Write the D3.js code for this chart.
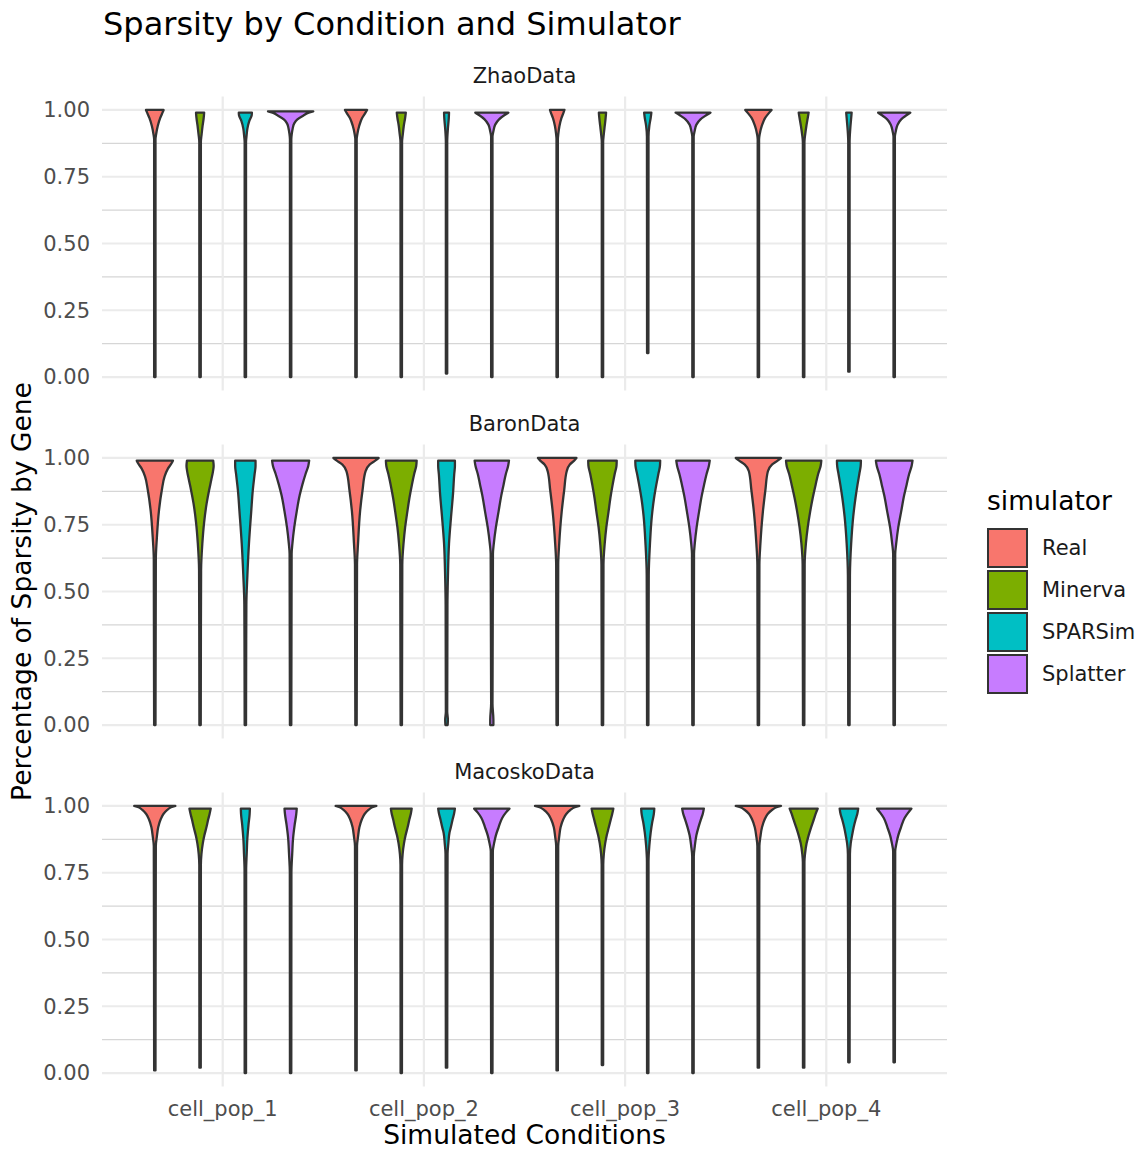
<!DOCTYPE html>
<html lang="en">
<head>
    <meta charset="UTF-8">
    <title>Sparsity by Condition and Simulator</title>
    <style>
        body { margin: 0; background: #fff; }
        svg { display: block; font-family: "DejaVu Sans", sans-serif; }
    </style>
</head>
<body>
    <svg id="chart" width="1144" height="1149"></svg>

    <script src="https://d3js.org/d3.v7.min.js"></script>
    <script>
        // facets, categories and fill groups
        const datasets = ["ZhaoData", "BaronData", "MacoskoData"];
        const conditions = ["cell_pop_1", "cell_pop_2", "cell_pop_3", "cell_pop_4"];
        const simulators = ["Real", "Minerva", "SPARSim", "Splatter"];
        const simColors = ["#F8766D", "#7CAE00", "#00BFC4", "#C77CFF"];
        const yTicks = [0, 0.25, 0.5, 0.75, 1];
        const yMinorTicks = [0.125, 0.375, 0.625, 0.875];

        // violin outlines: per condition, one entry per simulator,
        // knots are [sparsity, width relative to the widest violin]
        const zhaoViolins = [
            // cell_pop_1
            [[1.0, 0.39], [0.99, 0.34], [0.97, 0.24], [0.94, 0.13], [0.91, 0.06], [0.89, 0.03], [0, 0.03]],
            [[0.99, 0.18], [0.97, 0.16], [0.94, 0.11], [0.91, 0.07], [0.88, 0.035], [0, 0.03]],
            [[0.99, 0.29], [0.98, 0.28], [0.96, 0.18], [0.93, 0.09], [0.9, 0.05], [0.88, 0.03], [0, 0.03]],
            [[0.995, 1.0], [0.99, 0.8], [0.98, 0.58], [0.965, 0.3], [0.95, 0.16], [0.93, 0.09], [0.91, 0.05], [0.89, 0.03], [0, 0.03]],
            // cell_pop_2
            [[1.0, 0.49], [0.99, 0.42], [0.97, 0.27], [0.94, 0.14], [0.91, 0.06], [0.89, 0.03], [0, 0.03]],
            [[0.99, 0.2], [0.97, 0.17], [0.94, 0.11], [0.91, 0.07], [0.88, 0.035], [0, 0.03]],
            [[0.99, 0.11], [0.97, 0.1], [0.93, 0.06], [0.88, 0.03], [0.013, 0.03]],
            [[0.99, 0.73], [0.98, 0.55], [0.965, 0.32], [0.945, 0.15], [0.92, 0.07], [0.9, 0.03], [0, 0.03]],
            // cell_pop_3
            [[1.0, 0.32], [0.99, 0.28], [0.97, 0.19], [0.94, 0.1], [0.91, 0.05], [0.89, 0.03], [0, 0.03]],
            [[0.99, 0.16], [0.97, 0.14], [0.94, 0.1], [0.91, 0.06], [0.88, 0.03], [0, 0.03]],
            [[0.99, 0.16], [0.97, 0.13], [0.94, 0.07], [0.9, 0.035], [0.09, 0.03]],
            [[0.99, 0.77], [0.98, 0.58], [0.965, 0.33], [0.945, 0.15], [0.92, 0.07], [0.9, 0.03], [0, 0.03]],
            // cell_pop_4
            [[1.0, 0.58], [0.99, 0.48], [0.97, 0.3], [0.94, 0.15], [0.91, 0.06], [0.89, 0.03], [0, 0.03]],
            [[0.99, 0.22], [0.97, 0.18], [0.94, 0.12], [0.91, 0.07], [0.88, 0.035], [0, 0.03]],
            [[0.99, 0.12], [0.97, 0.1], [0.93, 0.06], [0.88, 0.03], [0.02, 0.03]],
            [[0.99, 0.71], [0.98, 0.54], [0.965, 0.31], [0.945, 0.15], [0.92, 0.07], [0.9, 0.03], [0, 0.03]]
        ];

        const baronViolins = [
            // cell_pop_1
            [[0.99, 0.8], [0.98, 0.74], [0.96, 0.58], [0.93, 0.43], [0.88, 0.31], [0.8, 0.18], [0.7, 0.09], [0.62, 0.045], [0, 0.03]],
            [[0.99, 0.58], [0.97, 0.6], [0.95, 0.57], [0.92, 0.5], [0.88, 0.4], [0.83, 0.29], [0.76, 0.18], [0.68, 0.1], [0.58, 0.045], [0, 0.03]],
            [[0.99, 0.45], [0.97, 0.45], [0.94, 0.41], [0.88, 0.33], [0.8, 0.26], [0.68, 0.16], [0.56, 0.09], [0.45, 0.045], [0, 0.03]],
            [[0.99, 0.82], [0.97, 0.78], [0.94, 0.66], [0.9, 0.52], [0.86, 0.4], [0.8, 0.27], [0.74, 0.16], [0.68, 0.08], [0.64, 0.045], [0, 0.03]],
            // cell_pop_2
            [[1.0, 1.0], [0.99, 0.85], [0.975, 0.6], [0.95, 0.42], [0.88, 0.29], [0.8, 0.18], [0.68, 0.09], [0.6, 0.045], [0, 0.03]],
            [[0.99, 0.68], [0.97, 0.66], [0.94, 0.57], [0.9, 0.47], [0.85, 0.36], [0.8, 0.27], [0.74, 0.17], [0.68, 0.1], [0.6, 0.045], [0, 0.03]],
            [[0.99, 0.37], [0.97, 0.37], [0.94, 0.34], [0.87, 0.29], [0.78, 0.2], [0.68, 0.11], [0.55, 0.06], [0.45, 0.04], [0.05, 0.03], [0.02, 0.06], [0, 0.05]],
            [[0.99, 0.76], [0.97, 0.72], [0.94, 0.62], [0.9, 0.52], [0.86, 0.42], [0.8, 0.3], [0.74, 0.18], [0.68, 0.09], [0.64, 0.05], [0.08, 0.03], [0.02, 0.07], [0, 0.07]],
            // cell_pop_3
            [[1.0, 0.85], [0.99, 0.75], [0.975, 0.55], [0.95, 0.42], [0.88, 0.31], [0.8, 0.2], [0.68, 0.09], [0.6, 0.045], [0, 0.03]],
            [[0.99, 0.63], [0.97, 0.62], [0.94, 0.54], [0.9, 0.45], [0.85, 0.35], [0.8, 0.27], [0.74, 0.17], [0.68, 0.1], [0.6, 0.045], [0, 0.03]],
            [[0.99, 0.55], [0.97, 0.54], [0.94, 0.47], [0.9, 0.38], [0.85, 0.28], [0.78, 0.18], [0.68, 0.1], [0.56, 0.045], [0, 0.03]],
            [[0.99, 0.74], [0.97, 0.7], [0.94, 0.6], [0.9, 0.49], [0.86, 0.39], [0.8, 0.27], [0.74, 0.16], [0.68, 0.08], [0.64, 0.045], [0, 0.03]],
            // cell_pop_4
            [[1.0, 1.0], [0.99, 0.85], [0.975, 0.6], [0.95, 0.42], [0.88, 0.31], [0.8, 0.2], [0.68, 0.09], [0.6, 0.045], [0, 0.03]],
            [[0.99, 0.78], [0.97, 0.75], [0.94, 0.64], [0.9, 0.53], [0.85, 0.4], [0.8, 0.29], [0.74, 0.18], [0.68, 0.1], [0.6, 0.045], [0, 0.03]],
            [[0.99, 0.53], [0.97, 0.52], [0.94, 0.46], [0.9, 0.38], [0.85, 0.29], [0.78, 0.19], [0.68, 0.1], [0.56, 0.045], [0, 0.03]],
            [[0.99, 0.81], [0.97, 0.77], [0.94, 0.66], [0.9, 0.55], [0.86, 0.44], [0.8, 0.31], [0.74, 0.18], [0.68, 0.09], [0.64, 0.045], [0, 0.03]]
        ];

        const macoskoViolins = [
            // cell_pop_1
            [[1.0, 0.91], [0.995, 0.72], [0.985, 0.55], [0.97, 0.38], [0.95, 0.26], [0.92, 0.15], [0.885, 0.09], [0.85, 0.045], [0.01, 0.03]],
            [[0.99, 0.47], [0.97, 0.42], [0.95, 0.36], [0.92, 0.28], [0.89, 0.19], [0.86, 0.12], [0.82, 0.06], [0.78, 0.035], [0.02, 0.03]],
            [[0.99, 0.2], [0.97, 0.19], [0.93, 0.14], [0.88, 0.09], [0.82, 0.06], [0.76, 0.035], [0, 0.03]],
            [[0.99, 0.27], [0.97, 0.25], [0.93, 0.18], [0.88, 0.11], [0.82, 0.07], [0.75, 0.035], [0, 0.03]],
            // cell_pop_2
            [[1.0, 0.9], [0.995, 0.72], [0.985, 0.55], [0.97, 0.38], [0.95, 0.26], [0.92, 0.15], [0.885, 0.09], [0.85, 0.045], [0.01, 0.03]],
            [[0.99, 0.46], [0.97, 0.42], [0.95, 0.36], [0.92, 0.28], [0.89, 0.19], [0.86, 0.12], [0.82, 0.06], [0.78, 0.035], [0, 0.03]],
            [[0.99, 0.37], [0.97, 0.33], [0.95, 0.27], [0.92, 0.19], [0.9, 0.13], [0.86, 0.08], [0.82, 0.045], [0.02, 0.03]],
            [[0.99, 0.78], [0.975, 0.62], [0.955, 0.46], [0.92, 0.3], [0.89, 0.18], [0.86, 0.1], [0.83, 0.045], [0, 0.03]],
            // cell_pop_3
            [[1.0, 0.98], [0.995, 0.78], [0.985, 0.58], [0.97, 0.4], [0.95, 0.27], [0.92, 0.15], [0.885, 0.09], [0.85, 0.045], [0.01, 0.03]],
            [[0.99, 0.48], [0.97, 0.43], [0.95, 0.37], [0.92, 0.28], [0.89, 0.19], [0.86, 0.12], [0.82, 0.06], [0.78, 0.035], [0.03, 0.03]],
            [[0.99, 0.29], [0.97, 0.27], [0.94, 0.2], [0.9, 0.13], [0.85, 0.07], [0.79, 0.035], [0, 0.03]],
            [[0.99, 0.48], [0.97, 0.43], [0.95, 0.35], [0.92, 0.24], [0.89, 0.15], [0.85, 0.08], [0.81, 0.035], [0, 0.03]],
            // cell_pop_4
            [[1.0, 1.0], [0.995, 0.8], [0.985, 0.6], [0.97, 0.41], [0.95, 0.28], [0.92, 0.16], [0.885, 0.09], [0.85, 0.045], [0.02, 0.03]],
            [[0.99, 0.62], [0.975, 0.55], [0.95, 0.45], [0.92, 0.33], [0.89, 0.22], [0.86, 0.13], [0.82, 0.06], [0.79, 0.035], [0.02, 0.03]],
            [[0.99, 0.41], [0.97, 0.37], [0.95, 0.3], [0.92, 0.21], [0.89, 0.14], [0.86, 0.08], [0.82, 0.045], [0.04, 0.03]],
            [[0.99, 0.76], [0.975, 0.62], [0.955, 0.46], [0.92, 0.3], [0.89, 0.18], [0.86, 0.1], [0.83, 0.045], [0.04, 0.03]]
        ];

        const violinsByDataset = [zhaoViolins, baronViolins, macoskoViolins];

        // layout
        const svg = d3.select("#chart");
        const panelLeft = 102, panelWidth = 845;
        const panelTops = [96.6, 444.6, 792.6];
        const panelHeight = 293.8;

        const x = d3.scaleBand(conditions, [0, panelWidth]).paddingInner(0).paddingOuter(0.1);
        const dodge = d3.scaleBand(simulators, [-0.45 * x.step(), 0.45 * x.step()]);
        const y = d3.scaleLinear([-0.05, 1.05], [panelHeight, 0]);
        const color = d3.scaleOrdinal(simulators, simColors);

        // title
        svg.append("text")
            .attr("x", 103)
            .attr("y", 35)
            .attr("font-size", 32)
            .attr("fill", "#000")
            .text("Sparsity by Condition and Simulator");

        datasets.forEach((name, di) => {
            const g = svg.append("g")
                .attr("transform", `translate(${panelLeft},${panelTops[di]})`);

            // grid lines
            g.selectAll(".minor")
                .data(yMinorTicks)
                .enter()
                .append("line")
                .attr("x1", 0).attr("x2", panelWidth)
                .attr("y1", d => y(d)).attr("y2", d => y(d))
                .attr("stroke", "#d6d6d6")
                .attr("stroke-width", 1.1);

            g.selectAll(".major")
                .data(yTicks)
                .enter()
                .append("line")
                .attr("x1", 0).attr("x2", panelWidth)
                .attr("y1", d => y(d)).attr("y2", d => y(d))
                .attr("stroke", "#ebebeb")
                .attr("stroke-width", 2.2);

            g.selectAll(".vgrid")
                .data(conditions)
                .enter()
                .append("line")
                .attr("x1", d => x(d) + x.bandwidth() / 2)
                .attr("x2", d => x(d) + x.bandwidth() / 2)
                .attr("y1", 0).attr("y2", panelHeight)
                .attr("stroke", "#ebebeb")
                .attr("stroke-width", 2.2);

            // y tick labels
            svg.selectAll(null)
                .data(yTicks)
                .enter()
                .append("text")
                .attr("x", 90)
                .attr("y", d => panelTops[di] + y(d))
                .attr("dy", "0.35em")
                .attr("text-anchor", "end")
                .attr("font-size", 21)
                .attr("fill", "#4d4d4d")
                .text(d => d.toFixed(2));

            // strip label
            svg.append("text")
                .attr("x", panelLeft + panelWidth / 2)
                .attr("y", panelTops[di] - 21)
                .attr("dy", "0.35em")
                .attr("text-anchor", "middle")
                .attr("font-size", 21)
                .attr("fill", "#1a1a1a")
                .text(name);

            // violins
            const violins = violinsByDataset[di];
            const items = [];
            conditions.forEach((c, ci) => {
                simulators.forEach((s, si) => {
                    items.push({
                        cond: c,
                        sim: s,
                        knots: violins[ci * simulators.length + si].slice().sort((a, b) => a[0] - b[0])
                    });
                });
            });

            const halfMax = dodge.bandwidth() / 2;
            g.selectAll(".violin")
                .data(items)
                .enter()
                .append("path")
                .attr("class", "violin")
                .attr("d", d => {
                    const cx = x(d.cond) + x.bandwidth() / 2 + dodge(d.sim) + dodge.bandwidth() / 2;
                    return d3.area()
                        .curve(d3.curveMonotoneY)
                        .y(k => y(k[0]))
                        .x0(k => cx - k[1] * halfMax)
                        .x1(k => cx + k[1] * halfMax)(d.knots);
                })
                .attr("fill", d => color(d.sim))
                .attr("stroke", "#333333")
                .attr("stroke-width", 2.3)
                .attr("stroke-linejoin", "round");
        });

        // x tick labels
        const lastBottom = panelTops[2] + panelHeight;
        svg.selectAll(".xtick")
            .data(conditions)
            .enter()
            .append("text")
            .attr("x", d => panelLeft + x(d) + x.bandwidth() / 2)
            .attr("y", lastBottom + 22)
            .attr("dy", "0.35em")
            .attr("text-anchor", "middle")
            .attr("font-size", 21)
            .attr("fill", "#4d4d4d")
            .text(d => d);

        // axis titles
        svg.append("text")
            .attr("x", panelLeft + panelWidth / 2)
            .attr("y", 1135)
            .attr("dy", "0.35em")
            .attr("text-anchor", "middle")
            .attr("font-size", 26.5)
            .attr("fill", "#000")
            .text("Simulated Conditions");

        svg.append("text")
            .attr("transform", `translate(22,${(panelTops[0] + lastBottom) / 2}) rotate(-90)`)
            .attr("dy", "0.35em")
            .attr("text-anchor", "middle")
            .attr("font-size", 26.5)
            .attr("fill", "#000")
            .text("Percentage of Sparsity by Gene");

        // legend
        const legend = svg.append("g").attr("transform", "translate(987,0)");
        legend.append("text")
            .attr("x", 0)
            .attr("y", 510)
            .attr("font-size", 26.5)
            .attr("fill", "#000")
            .text("simulator");

        const keys = legend.selectAll(".key")
            .data(simulators)
            .enter()
            .append("g")
            .attr("transform", (d, i) => `translate(0,${528 + i * 42})`);

        keys.append("rect")
            .attr("x", 1).attr("y", 1)
            .attr("width", 39).attr("height", 38)
            .attr("fill", d => color(d))
            .attr("stroke", "#333333")
            .attr("stroke-width", 2);

        keys.append("text")
            .attr("x", 55)
            .attr("y", 20)
            .attr("dy", "0.35em")
            .attr("font-size", 21)
            .attr("fill", "#1a1a1a")
            .text(d => d);
    </script>
</body>
</html>
